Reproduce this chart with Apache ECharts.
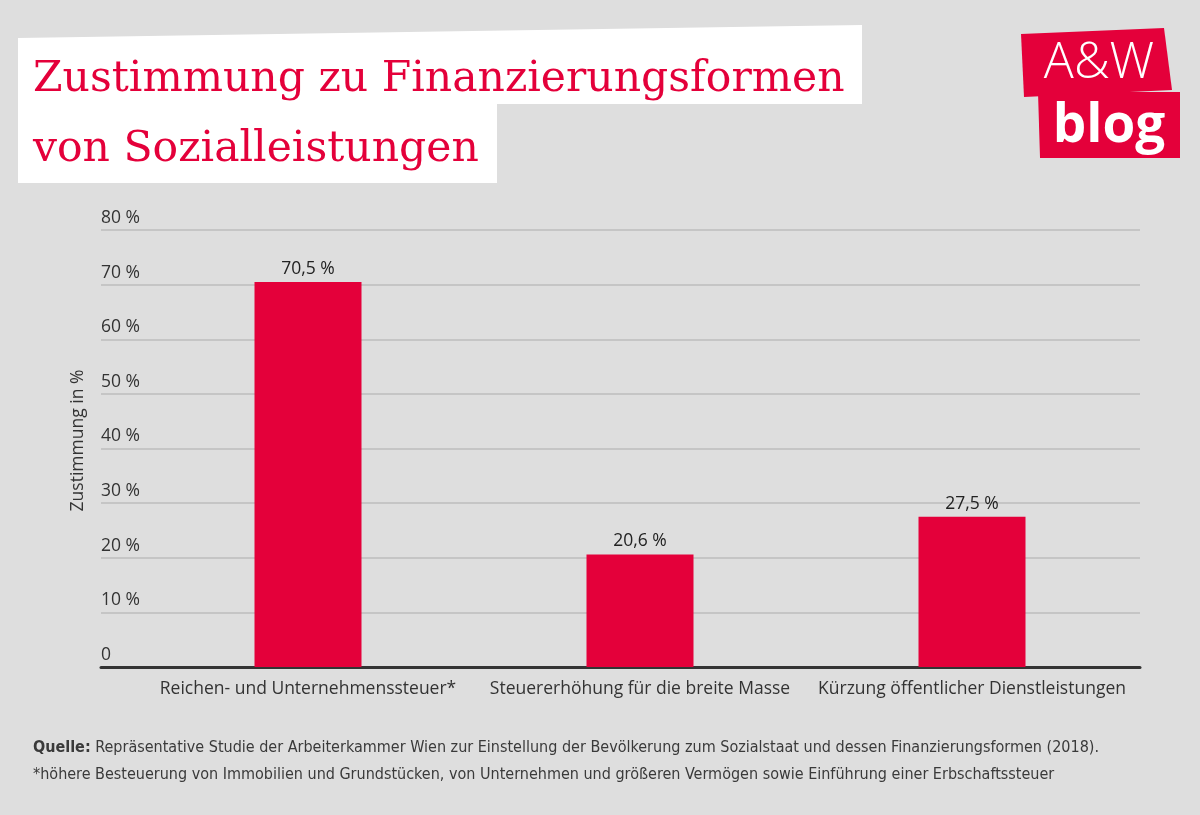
<!DOCTYPE html>
<html><head><meta charset="utf-8">
<script src="https://cdn.jsdelivr.net/npm/echarts@6/dist/echarts.min.js"></script>
<style>html,body{margin:0;padding:0;background:#dedede;}#c{width:1200px;height:815px;}</style>
</head><body><div id="c"></div>
<script>
const categories = ['Reichen- und Unternehmenssteuer*', 'Steuererhöhung für die breite Masse', 'Kürzung öffentlicher Dienstleistungen'];
const values = [70.5, 20.6, 27.5];
const yTicks = [0, 10, 20, 30, 40, 50, 60, 70, 80];
const titleLines = ['Zustimmung zu Finanzierungsformen', 'von Sozialleistungen'];
const yAxisName = 'Zustimmung in %';
const sourceText = 'Repräsentative Studie der Arbeiterkammer Wien zur Einstellung der Bevölkerung zum Sozialstaat und dessen Finanzierungsformen (2018).';
const footnote = '*höhere Besteuerung von Immobilien und Grundstücken, von Unternehmen und größeren Vermögen sowie Einführung einer Erbschaftssteuer';

const RED = '#e4003a';
const chart = echarts.init(document.getElementById('c'), null, {renderer: 'canvas'});
const fmt = v => String(v).replace('.', ',') + ' %';
const yMin = yTicks[0], yMax = yTicks[yTicks.length - 1], yInt = yTicks[1] - yTicks[0];
const FOOT = '"DejaVu Sans Condensed", "Liberation Sans Narrow", "Liberation Sans"';

chart.setOption({
  backgroundColor: '#dedede',
  animation: false,
  textStyle: {fontFamily: 'Open Sans'},
  grid: [
    {left: 142, right: 62, top: 230, bottom: 148},
    {left: 101, right: 60, top: 230, bottom: 148}
  ],
  xAxis: [
    {type: 'category', gridIndex: 0, data: categories,
     axisLine: {show: false},
     axisTick: {show: false},
     axisLabel: {color: '#333', fontSize: 17.5, margin: 13, interval: 0, fontFamily: 'Open Sans'}},
    {type: 'category', gridIndex: 1, data: [''],
     axisLine: {show: true, lineStyle: {color: '#333', width: 3}},
     axisTick: {show: false}, axisLabel: {show: false}}
  ],
  yAxis: [
    {type: 'value', gridIndex: 0, min: yMin, max: yMax, interval: yInt, show: false},
    {type: 'value', gridIndex: 1, min: yMin, max: yMax, interval: yInt,
     axisLine: {show: false}, axisTick: {show: false},
     splitLine: {show: true, lineStyle: {color: '#bcbcbc', width: 1.5}},
     axisLabel: {inside: true, color: '#333', fontSize: 17.5, verticalAlign: 'bottom', align: 'left', margin: 0,
       padding: [0, 0, 3, 0], fontFamily: 'Open Sans',
       formatter: v => v === 0 ? '0' : v + ' %'},
     name: yAxisName, nameLocation: 'middle', nameRotate: 90, nameGap: 14,
     nameTextStyle: {color: '#333', fontSize: 17.5, fontFamily: 'Open Sans', padding: [0, 0, 0, 16]}}
  ],
  series: [{
    type: 'bar', xAxisIndex: 0, yAxisIndex: 0, data: values, barWidth: 107,
    itemStyle: {color: RED}, z: 3,
    label: {show: true, position: 'top', color: '#222', fontSize: 17.5, distance: 4,
      fontFamily: 'Open Sans', formatter: p => fmt(p.value)}
  }],
  graphic: [
    {type: 'polygon', shape: {points: [[18, 38], [862, 25], [862, 104], [18, 104]]}, style: {fill: '#fff'}, z: 1},
    {type: 'polygon', shape: {points: [[18, 100], [497, 100], [497, 183], [18, 183]]}, style: {fill: '#fff'}, z: 1},
    {type: 'text', left: 33, top: 58, z: 2, style: {text: titleLines[0], fill: RED, font: '42.5px "DejaVu Serif"'}},
    {type: 'text', left: 33, top: 128, z: 2, style: {text: titleLines[1], fill: RED, font: '42.5px "DejaVu Serif"'}},
    {type: 'polygon', shape: {points: [[1021, 34], [1164, 28], [1172, 90], [1024, 97]]}, style: {fill: RED}, z: 1},
    {type: 'polygon', shape: {points: [[1038, 92], [1180, 92], [1180, 158], [1040, 158]]}, style: {fill: RED}, z: 1},
    {type: 'text', x: 1099, y: 64, z: 2, style: {text: 'A&W', fill: '#fff', font: '300 50px "Open Sans"', align: 'center', verticalAlign: 'middle'}},
    {type: 'text', x: 1109, y: 127, z: 2, style: {text: 'blog', fill: '#fff', font: 'bold 53px "Open Sans"', align: 'center', verticalAlign: 'middle'}},
    {type: 'text', left: 33, top: 740, z: 2, style: {
      text: '{b|Quelle:} ' + sourceText, rich: {b: {fontWeight: 'bold', fill: '#3a3a3a', fontSize: 16, fontFamily: FOOT}},
      fill: '#3a3a3a', font: '16px ' + FOOT}},
    {type: 'text', left: 33, top: 767, z: 2, style: {text: footnote, fill: '#3a3a3a', font: '16px ' + FOOT}}
  ]
});
</script></body></html>
